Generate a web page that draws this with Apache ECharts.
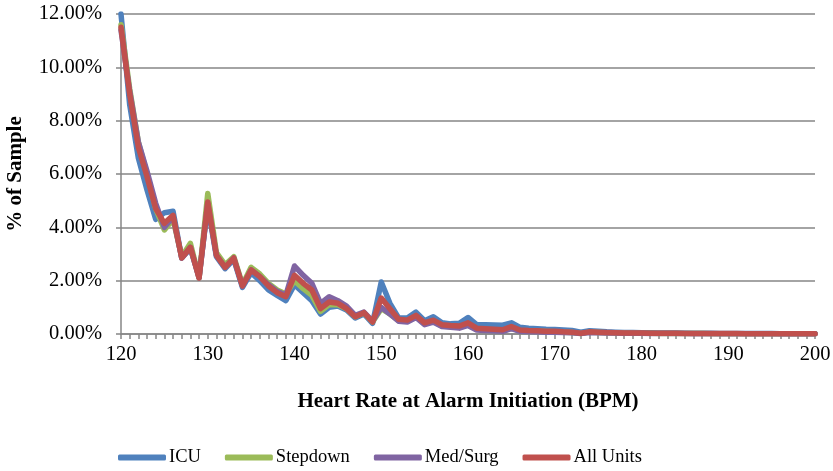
<!DOCTYPE html>
<html>
<head>
<meta charset="utf-8">
<script src="https://cdn.jsdelivr.net/npm/echarts@6/dist/echarts.min.js"></script>
<style>
  html, body { margin: 0; padding: 0; background: #fff; }
  #chart { width: 833px; height: 471px; }
</style>
</head>
<body>
<div id="chart"></div>
<script>
// heart rate 120..200 BPM
const heartRates = [];
for (let hr = 120; hr <= 200; hr++) heartRates.push(String(hr));

const icu = [
  12.0, 8.6, 6.6, 5.4, 4.3, 4.55, 4.6, 2.85, 3.2, 2.15,
  4.8, 2.9, 2.45, 2.8, 1.75, 2.3, 2.0, 1.65, 1.45, 1.25,
  1.85, 1.55, 1.25, 0.75, 1.0, 1.05, 0.9, 0.6, 0.75, 0.4,
  1.95, 1.15, 0.6, 0.6, 0.82, 0.5, 0.65, 0.42, 0.38, 0.4,
  0.62, 0.35, 0.35, 0.34, 0.33, 0.42, 0.25, 0.22, 0.2, 0.18,
  0.17, 0.15, 0.13, 0.07, 0.12, 0.1, 0.08, 0.07, 0.06, 0.06,
  0.05, 0.05, 0.04, 0.04, 0.04, 0.03, 0.03, 0.03, 0.03, 0.02,
  0.02, 0.02, 0.02, 0.02, 0.02, 0.02, 0.01, 0.01, 0.01, 0.01, 0.01
];
const stepdown = [
  11.6, 9.2, 7.2, 6.0, 4.7, 3.9, 4.3, 2.9, 3.4, 2.1,
  5.27, 3.05, 2.6, 2.9, 1.85, 2.5, 2.25, 1.9, 1.65, 1.5,
  2.0, 1.7, 1.45, 0.85, 1.1, 1.1, 0.95, 0.65, 0.8, 0.45,
  0.95, 0.75, 0.5, 0.48, 0.65, 0.38, 0.48, 0.3, 0.28, 0.25,
  0.35, 0.18, 0.16, 0.15, 0.12, 0.22, 0.12, 0.11, 0.1, 0.09,
  0.08, 0.07, 0.06, 0.02, 0.07, 0.06, 0.05, 0.04, 0.04, 0.03,
  0.03, 0.03, 0.02, 0.02, 0.02, 0.02, 0.02, 0.02, 0.01, 0.01,
  0.01, 0.01, 0.01, 0.01, 0.01, 0.01, 0.01, 0.01, 0.01, 0.01, 0.01
];
const medSurg = [
  11.4, 9.1, 7.2, 6.1, 4.9, 4.0, 4.4, 2.85, 3.25, 2.1,
  4.9, 2.95, 2.5, 2.85, 1.8, 2.4, 2.15, 1.85, 1.6, 1.45,
  2.55, 2.2, 1.9, 1.15, 1.4, 1.25, 1.05, 0.7, 0.82, 0.48,
  1.0, 0.75, 0.48, 0.45, 0.62, 0.35, 0.45, 0.28, 0.25, 0.22,
  0.32, 0.15, 0.13, 0.12, 0.1, 0.2, 0.1, 0.09, 0.08, 0.07,
  0.07, 0.06, 0.05, 0.02, 0.06, 0.05, 0.04, 0.04, 0.03, 0.03,
  0.03, 0.02, 0.02, 0.02, 0.02, 0.02, 0.01, 0.01, 0.01, 0.01,
  0.01, 0.01, 0.01, 0.01, 0.01, 0.01, 0.01, 0.01, 0.01, 0.01, 0.01
];
const allUnits = [
  11.5, 9.0, 7.0, 5.9, 4.7, 4.15, 4.45, 2.85, 3.25, 2.1,
  4.95, 2.95, 2.5, 2.85, 1.8, 2.4, 2.15, 1.8, 1.55, 1.4,
  2.2, 1.9, 1.65, 0.95, 1.2, 1.15, 0.95, 0.65, 0.8, 0.45,
  1.35, 0.95, 0.55, 0.52, 0.7, 0.42, 0.52, 0.35, 0.32, 0.3,
  0.42, 0.22, 0.2, 0.18, 0.16, 0.28, 0.15, 0.13, 0.12, 0.1,
  0.1, 0.08, 0.07, 0.03, 0.08, 0.07, 0.06, 0.05, 0.04, 0.04,
  0.04, 0.03, 0.03, 0.03, 0.03, 0.02, 0.02, 0.02, 0.02, 0.02,
  0.02, 0.02, 0.01, 0.01, 0.01, 0.01, 0.01, 0.01, 0.01, 0.01, 0.01
];

const seriesNames = ['ICU', 'Stepdown', 'Med/Surg', 'All Units'];
const seriesColors = ['#4F81BD', '#9BBB59', '#8064A2', '#C0504D'];
const seriesData = [icu, stepdown, medSurg, allUnits];

const font = '"Liberation Serif", "Times New Roman", serif';
const gray = '#868686';

const chart = echarts.init(document.getElementById('chart'));
chart.setOption({
  animation: false,
  textStyle: { fontFamily: font },
  grid: { left: 121, right: 18, top: 14, bottom: 137, outerBoundsMode: 'none' },
  legend: {
    left: 113,
    top: 443,
    itemWidth: 48,
    itemHeight: 6,
    itemGap: 24,
    icon: 'roundRect',
    textStyle: { fontFamily: font, fontSize: 18.5, color: '#000', padding: [0, 0, 0, -2] },
    data: seriesNames
  },
  xAxis: {
    type: 'category',
    data: heartRates,
    boundaryGap: false,
    name: 'Heart Rate at Alarm Initiation (BPM)',
    nameLocation: 'middle',
    nameGap: 57,
    nameTextStyle: { fontFamily: font, fontSize: 21, fontWeight: 'bold', color: '#000' },
    axisLine: { lineStyle: { color: gray, width: 1.5 } },
    axisTick: { interval: 0, length: 5, lineStyle: { color: gray, width: 1.5 } },
    axisLabel: { interval: 9, fontSize: 20.5, color: '#000', margin: 10 },
    splitLine: { show: false }
  },
  yAxis: {
    type: 'value',
    min: 0,
    max: 12,
    interval: 2,
    name: '% of Sample',
    nameLocation: 'middle',
    nameGap: 95,
    nameTextStyle: { fontFamily: font, fontSize: 21, fontWeight: 'bold', color: '#000' },
    axisLine: { show: true, lineStyle: { color: gray, width: 1.5 } },
    axisTick: { show: true, length: 5, lineStyle: { color: gray, width: 1.5 } },
    axisLabel: {
      fontSize: 20.5, color: '#000', margin: 19,
      formatter: v => v.toFixed(2) + '%'
    },
    splitLine: { lineStyle: { color: gray, width: 1.5 } }
  },
  series: seriesData.map((d, i) => ({
    name: seriesNames[i],
    type: 'line',
    data: d,
    symbol: 'none',
    color: seriesColors[i],
    lineStyle: { width: 5.5, color: seriesColors[i], cap: 'round', join: 'round' }
  }))
});
</script>
</body>
</html>
